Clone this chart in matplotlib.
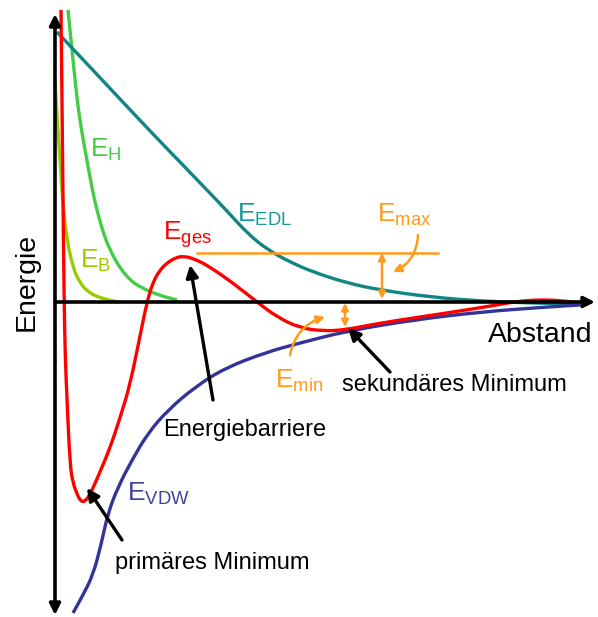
import numpy as np
import matplotlib
matplotlib.use("Agg")
from matplotlib import pyplot as plt
from matplotlib.path import Path
from matplotlib.patches import PathPatch

plt.rcParams['font.family'] = ['Liberation Sans', 'DejaVu Sans']
plt.rcParams['mathtext.fontset'] = 'custom'
plt.rcParams['mathtext.rm'] = 'Liberation Sans'

# distance / energy samples of each potential (arbitrary units, 0 = origin)
ges_d = [6, 7, 8, 9, 10, 12, 15, 18, 22, 25, 28, 31, 34, 38, 45, 55, 65,
         75, 85, 92, 98, 105, 112, 120, 128, 140, 155, 178, 202, 222, 245,
         268, 290, 325, 392, 442, 458, 478, 498, 518]
ges_e = [292, 202, 102, 12, -48, -98, -163, -181, -192, -198, -200, -198,
         -194, -186, -170, -146, -116, -83, -34, 0, 20, 32, 39, 44, 46, 43,
         35, 19, 0, -15, -26, -29, -28, -21, -11, -3, 0, 2, 2, 0]

edl_d = [2, 35, 65, 95, 125, 150, 173, 193, 213, 235, 258, 292, 325,
         375, 425, 475, 523]
edl_e = [270, 235, 203, 171, 140, 114, 90, 68, 52, 40, 30, 19, 12,
         5, 1, -1, -2]

vdw_d = [18, 28, 38, 46, 53, 63, 77, 93, 113, 140, 170, 212, 245, 292,
         358, 425, 492, 525]
vdw_e = [-311, -293, -273, -243, -211, -185, -158, -131, -108, -85, -66,
         -50, -41, -29, -18, -10, -5, -3]

h_d = [13, 16, 20, 24, 30, 35, 39, 44, 50, 57, 65, 75, 85, 103, 122]
h_e = [292, 262, 222, 187, 152, 125, 104, 84, 64, 48, 34, 22, 15, 7, 2]

b_d = [0, 2, 5, 8, 12, 18, 25, 33, 45, 63]
b_e = [222, 185, 142, 97, 62, 34, 19, 10, 4, 0]

# barrier height level and the two energy gaps
e_max = 49
e_min = -25


def smooth_curve(ax, xs, ys, **kw):
    """Draw the samples as a quadratic B-spline path (samples = control points)."""
    pts = np.column_stack([xs, ys]).astype(float)
    verts = [pts[0], (pts[0] + pts[1]) / 2]
    codes = [Path.MOVETO, Path.LINETO]
    for i in range(1, len(pts) - 1):
        verts += [pts[i], (pts[i] + pts[i + 1]) / 2]
        codes += [Path.CURVE3, Path.CURVE3]
    verts.append(pts[-1])
    codes.append(Path.LINETO)
    ax.add_patch(PathPatch(Path(verts, codes), fill=False,
                           capstyle='butt', joinstyle='round', **kw))


fig = plt.figure(figsize=(5.98, 6.17), dpi=100)
ax = fig.add_axes([0, 0, 1, 1])
ax.set_xlim(-55, 543)
ax.set_ylim(-315, 302)
ax.axis('off')

# coordinate axes with arrow heads
ax.annotate('', xy=(0, 288), xytext=(0, -313),
            arrowprops=dict(arrowstyle='<|-|>', color='black', lw=2.6,
                            mutation_scale=16, shrinkA=0, shrinkB=0))
ax.annotate('', xy=(540, 0), xytext=(0, 0),
            arrowprops=dict(arrowstyle='-|>', color='black', lw=2.6,
                            mutation_scale=16, shrinkA=0, shrinkB=0))

lw = 2.4
smooth_curve(ax, b_d, b_e, color='#99cc00', lw=lw)
smooth_curve(ax, h_d, h_e, color='#44cc44', lw=lw)
smooth_curve(ax, edl_d, edl_e, color='#128585', lw=lw)
smooth_curve(ax, vdw_d, vdw_e, color='#333399', lw=lw)
smooth_curve(ax, ges_d, ges_e, color='#ff0000', lw=lw)

orange = '#ff9a1a'
ax.plot([142, 383], [e_max, e_max], color=orange, lw=1.8)
ax.annotate('', xy=(327, e_max), xytext=(327, 3),
            arrowprops=dict(arrowstyle='<|-|>', color=orange, lw=1.8,
                            mutation_scale=10, shrinkA=0, shrinkB=0))
ax.annotate('', xy=(290, -1), xytext=(290, e_min),
            arrowprops=dict(arrowstyle='<|-|>', color=orange, lw=1.8,
                            mutation_scale=10, shrinkA=0, shrinkB=0))
ax.annotate('', xy=(338, 30), xytext=(363, 67),
            arrowprops=dict(arrowstyle='-|>', color=orange, lw=1.8,
                            mutation_scale=12, shrinkA=0, shrinkB=0,
                            connectionstyle='arc3,rad=-0.3'))
ax.annotate('', xy=(270, -15), xytext=(235, -53),
            arrowprops=dict(arrowstyle='-|>', color=orange, lw=1.8,
                            mutation_scale=12, shrinkA=0, shrinkB=0,
                            connectionstyle='arc3,rad=-0.3'))

# curve labels
fs = 19
ax.text(35, 145, r'$\mathrm{E_{H}}$', color='#44cc44', fontsize=fs)
ax.text(25, 34, r'$\mathrm{E_{B}}$', color='#99cc00', fontsize=fs)
ax.text(182, 80, r'$\mathrm{E_{EDL}}$', color='#1a9999', fontsize=fs)
ax.text(108, 62, r'$\mathrm{E_{ges}}$', color='#ff0000', fontsize=fs)
ax.text(72, -199, r'$\mathrm{E_{VDW}}$', color='#4040a0', fontsize=fs)
ax.text(322, 80, r'$\mathrm{E_{max}}$', color=orange, fontsize=fs)
ax.text(220, -86, r'$\mathrm{E_{min}}$', color=orange, fontsize=fs)

# axis titles
ax.text(-28, 20, 'Energie', rotation=90, fontsize=20.5,
        ha='center', va='center')
ax.text(433, -40, 'Abstand', fontsize=20.5, ha='left', va='baseline')

# pointers to the characteristic points
black_arrow = dict(arrowstyle='-|>', color='black', lw=2.4,
                   mutation_scale=18, shrinkA=0, shrinkB=0)
ax.annotate('', xy=(135, 37), xytext=(158, -98), arrowprops=black_arrow)
ax.text(108, -128, 'Energiebarriere', fontsize=17, va='center')
ax.annotate('', xy=(32, -186), xytext=(67, -238), arrowprops=black_arrow)
ax.text(60, -261, 'primäres Minimum', fontsize=17, va='center')
ax.annotate('', xy=(293, -26), xytext=(335, -70), arrowprops=black_arrow)
ax.text(287, -83, 'sekundäres Minimum', fontsize=17, va='center')

fig.savefig('out.png', dpi=100)
